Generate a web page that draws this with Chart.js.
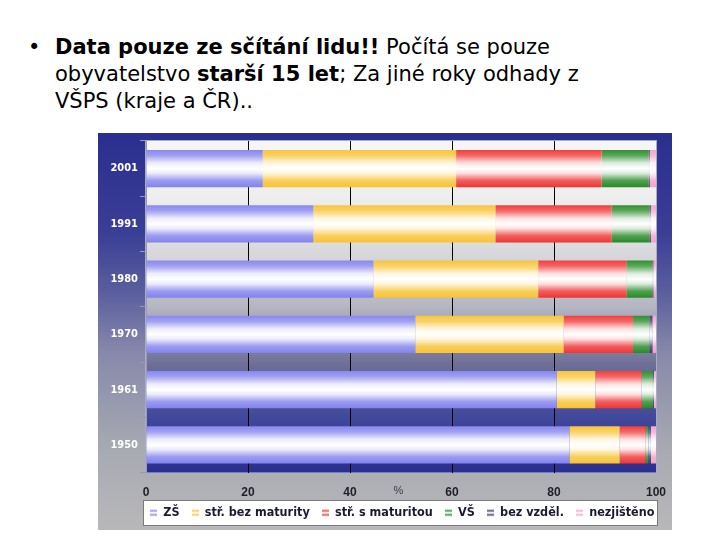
<!DOCTYPE html>
<html><head><meta charset="utf-8">
<script src="https://cdn.jsdelivr.net/npm/chart.js@4.4.1/dist/chart.umd.min.js"></script>
<style>
html,body{margin:0;padding:0;background:#fff;width:720px;height:540px;overflow:hidden;}
#txt{position:absolute;left:55px;top:34px;width:660px;font-family:"DejaVu Sans",sans-serif;font-size:21px;line-height:27px;color:#000;white-space:nowrap;}
#bul{position:absolute;left:28px;top:34px;font-family:"DejaVu Sans",sans-serif;font-size:21px;line-height:27px;}
#wrap{position:absolute;left:98px;top:133px;width:574px;height:397px;}
</style></head><body>
<div id="bul">•</div>
<div id="txt"><b>Data pouze ze sčítání lidu!!</b> Počítá se pouze<br>obyvatelstvo <b>starší 15 let</b>; Za jiné roky odhady z<br>VŠPS (kraje a ČR)..</div>
<div id="wrap"><canvas id="c" width="574" height="397"></canvas></div>
<script>
const years = ["2001","1991","1980","1970","1961","1950"];
const seriesNames = ["ZŠ","stř. bez maturity","stř. s maturitou","VŠ","bez vzděl.","nezjištěno"];
const zs        = [22.9, 32.8, 44.6, 52.8, 80.5, 83.0];
const strBezMat = [37.9, 35.7, 32.3, 29.1,  7.6,  9.9];
const strSMat   = [28.5, 22.8, 17.3, 13.6,  9.1,  5.1];
const vs        = [ 9.2,  7.4,  5.1,  3.2,  2.2,  0.5];
const bezVzdel  = [ 0.3,  0.3,  0.2,  0.6,  0.2,  0.5];
const nezjisteno= [ 1.2,  1.0,  0.5,  0.7,  0.4,  1.0];
const xTicks = [0,20,40,60,80,100];
const baseColors = ["#8282ee","#f8c232","#f03434","#268a26","#3a3a6a","#f4a0cc"];

function mix(hex, t){
  const r=parseInt(hex.slice(1,3),16),g=parseInt(hex.slice(3,5),16),b=parseInt(hex.slice(5,7),16);
  const f=v=>Math.round(v+(255-v)*t);
  return `rgb(${f(r)},${f(g)},${f(b)})`;
}
const BAR_PCT=0.675;
function barFill(color){
  return function(ctx){
    const chart=ctx.chart; const ys=chart.scales&&chart.scales.y;
    if(!ys||!chart.chartArea||ctx.dataIndex===undefined) return color;
    const c=ys.getPixelForValue(ctx.dataIndex);
    const h=(ys.bottom-ys.top)/years.length*BAR_PCT;
    const g=chart.ctx.createLinearGradient(0,c-h/2,0,c+h/2);
    g.addColorStop(0,mix(color,0.05));
    g.addColorStop(0.15,mix(color,0.25));
    g.addColorStop(0.35,mix(color,0.85));
    g.addColorStop(0.5,mix(color,1));
    g.addColorStop(0.62,mix(color,0.85));
    g.addColorStop(0.82,mix(color,0.2));
    g.addColorStop(1,mix(color,0));
    return g;
  };
}
function icon(color){
  const cv=document.createElement('canvas'); cv.width=7; cv.height=8;
  const x=cv.getContext('2d');
  x.fillStyle=mix(color,0.9); x.fillRect(0,0,7,8);
  x.fillStyle=mix(color,0.3);
  x.fillRect(0,1,7,2); x.fillRect(0,5,7,2);
  return cv;
}
const icons = baseColors.map(icon);
const dataArr=[zs,strBezMat,strSMat,vs,bezVzdel,nezjisteno];

const LEGEND_H=17;
const bgPlugin={
  id:'bg',
  beforeLayout(chart){
    const L=chart.legend;
    if(L&&!L._patched){
      const orig=L.fit;
      L.fit=function(){ orig.call(this); this.height=LEGEND_H; };
      L._patched=true;
    }
  },
  afterLayout(chart){
    const L=chart.legend; if(!L||!L.lineWidths) return;
    const pad=L.options.labels.padding;
    const cur=(L.left+pad+L.right-L.lineWidths[0])/2;
    const shift=chart.chartArea.left+4-cur;
    L.left+=shift; L.right+=shift;
    const dy=(368+12)-(L.top+pad+6.5);
    L.top+=dy; L.height=40; L.bottom=L.top+40;
  },
  beforeDraw(chart){
    const {ctx,width,height,chartArea:a}=chart;
    ctx.save();
    let g=ctx.createLinearGradient(0,0,0,height);
    g.addColorStop(0,'#2a2e8e'); g.addColorStop(0.25,'#3a3e96');
    g.addColorStop(0.4,'#5a5e9e'); g.addColorStop(0.55,'#8688aa');
    g.addColorStop(0.8,'#a8aab2'); g.addColorStop(1,'#b8b8ba');
    ctx.fillStyle=g; ctx.fillRect(0,0,width,height);
    g=ctx.createLinearGradient(0,a.top,0,a.bottom);
    g.addColorStop(0,'#f6f6f6'); g.addColorStop(0.17,'#eeeeee');
    g.addColorStop(0.34,'#d8d8dc'); g.addColorStop(0.5,'#b4b6c2');
    g.addColorStop(0.67,'#6e7098'); g.addColorStop(0.84,'#40469a');
    g.addColorStop(1,'#2a2e8e');
    ctx.fillStyle=g; ctx.fillRect(a.left,a.top,a.right-a.left,a.bottom-a.top);
    ctx.strokeStyle='#a8acc8'; ctx.lineWidth=1;
    ctx.strokeRect(a.left-0.5,a.top-0.5,a.right-a.left+1,a.bottom-a.top+1);
    const top=368, h=24;
    ctx.fillStyle='#ffffff'; ctx.fillRect(a.left-2,top,a.right-a.left+3,h);
    ctx.strokeStyle='#7a7a7a'; ctx.strokeRect(a.left-2.5,top-0.5,a.right-a.left+4,h+1);
    ctx.restore();
  },
  afterDraw(chart){
    const {ctx,chartArea:a}=chart; const xs=chart.scales.x;
    ctx.save();
    ctx.font='11px "Liberation Sans", sans-serif';
    ctx.fillStyle='#3a3a4a'; ctx.textAlign='center'; ctx.textBaseline='middle';
    ctx.fillText('%', xs.getPixelForValue(49.5), a.bottom+18);
    ctx.restore();
  }
};

new Chart(document.getElementById('c'),{
  type:'bar',
  data:{labels:years,datasets:dataArr.map((d,i)=>({label:seriesNames[i],data:d,backgroundColor:barFill(baseColors[i]),borderWidth:0,barPercentage:BAR_PCT,categoryPercentage:1.0}))},
  options:{
    indexAxis:'y',responsive:false,animation:false,devicePixelRatio:1,
    layout:{padding:{top:8,right:16,left:0,bottom:0}},
    scales:{
      x:{stacked:true,min:0,max:100,
        afterBuildTicks(s){s.ticks=xTicks.map(v=>({value:v}));},
        grid:{color:c=>(c.tick&&(c.tick.value===0||c.tick.value===100))?'rgba(0,0,0,0)':'#000000',lineWidth:1,drawTicks:false},
        border:{display:false},
        ticks:{padding:13,color:'#1e1e28',maxRotation:0,font:{family:'"Liberation Sans", sans-serif',size:12,weight:'bold'}},
        afterFit(s){s.paddingLeft=0; s.paddingRight=0;}
      },
      y:{stacked:true,
        grid:{drawOnChartArea:false,color:'#9a9ab4',tickLength:6,offset:true},
        border:{display:true,color:'#9a9ab4'},
        ticks:{color:'#ffffff',crossAlign:'center',padding:2,font:{family:'"DejaVu Sans Condensed","DejaVu Sans", sans-serif',size:11,weight:'bold'}},
        afterFit(s){s.width=48; s.paddingTop=0; s.paddingBottom=0;}
      }
    },
    plugins:{
      tooltip:{enabled:false},
      legend:{position:'bottom',
        labels:{usePointStyle:true,boxWidth:7,boxHeight:8,padding:12,color:'#1a1a30',
          font:{family:'"DejaVu Sans Condensed","DejaVu Sans", sans-serif',size:12.5,weight:'bold'},
          generateLabels(chart){return seriesNames.map((n,i)=>({text:n,pointStyle:icons[i],fillStyle:baseColors[i],strokeStyle:baseColors[i],lineWidth:0,datasetIndex:i,hidden:false,fontColor:'#1a1a30'}));}
        }
      }
    }
  },
  plugins:[bgPlugin]
});
</script>
</body></html>
